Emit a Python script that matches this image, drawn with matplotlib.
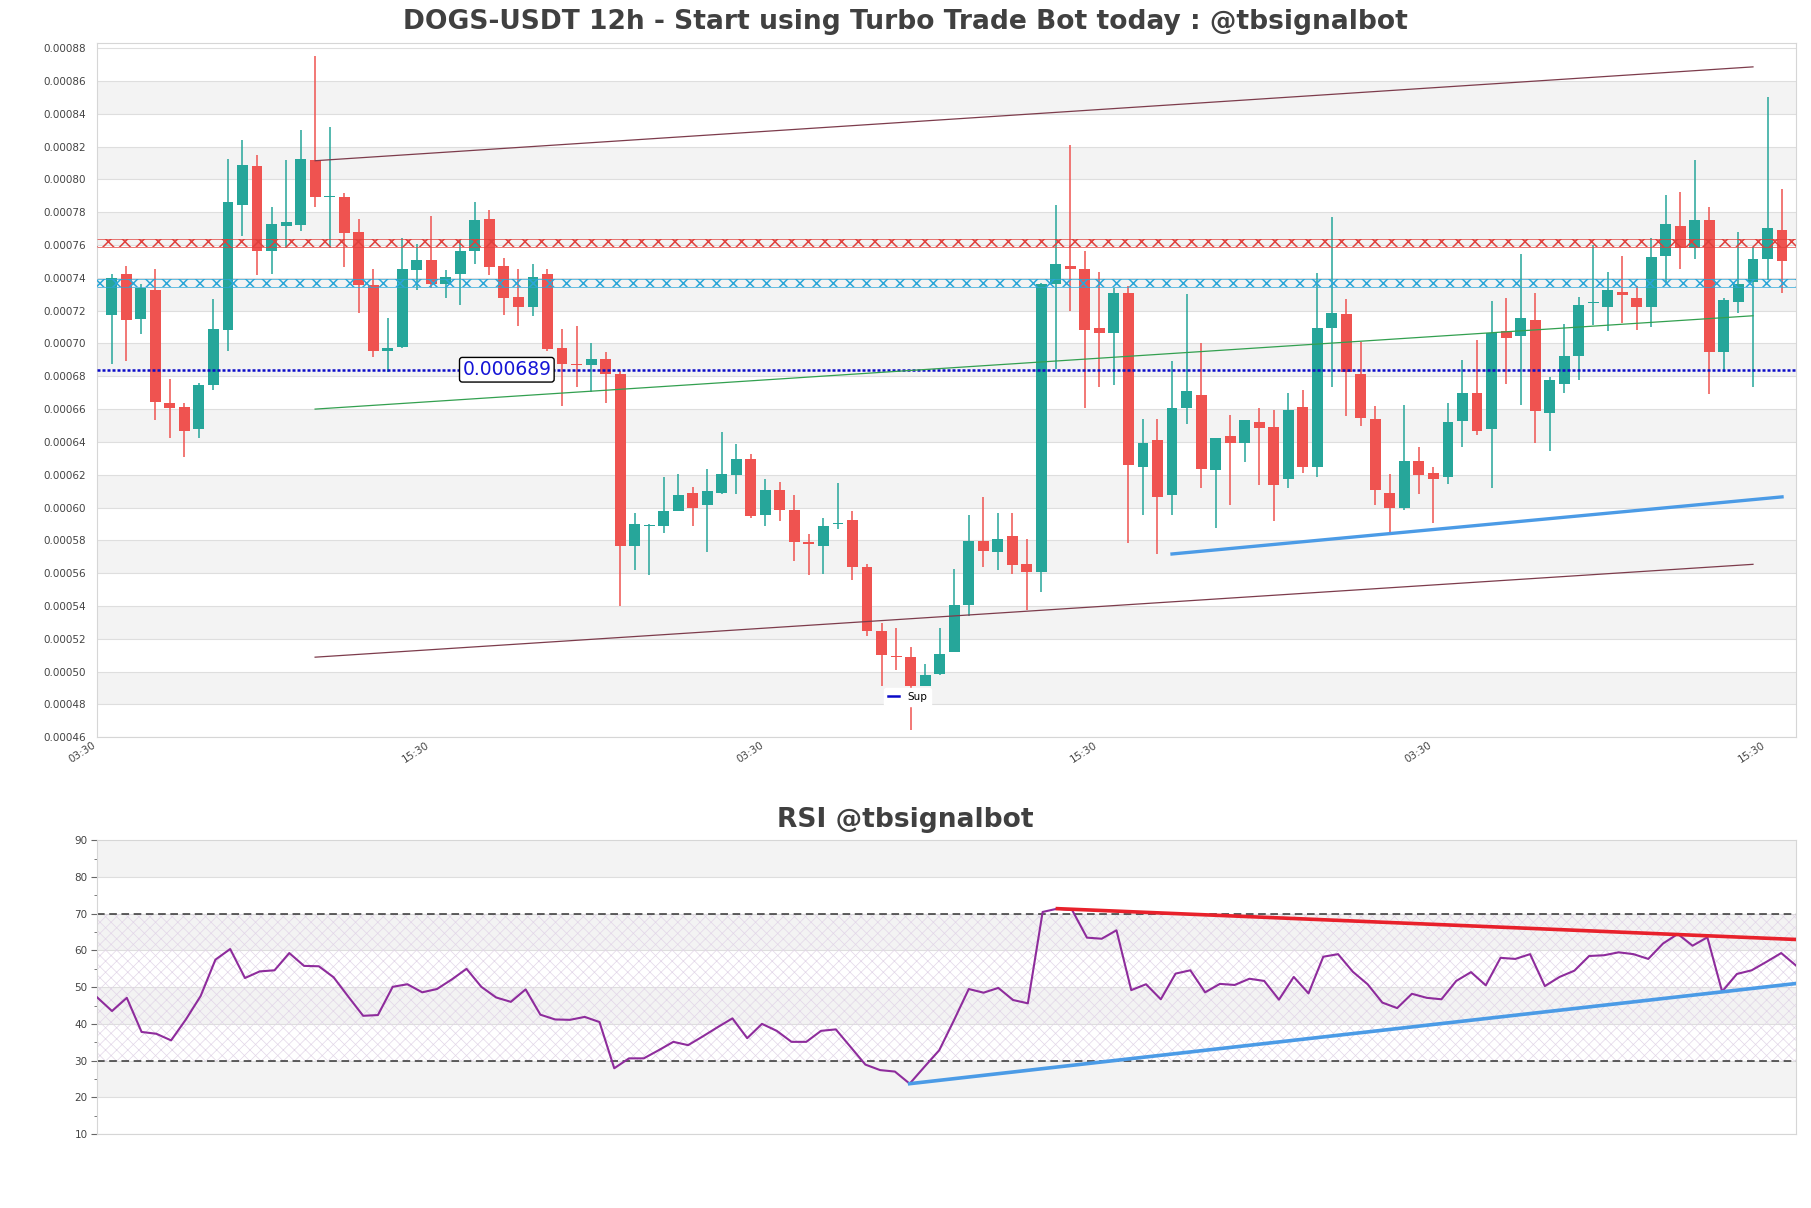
import numpy as np
import matplotlib.pyplot as plt
from matplotlib.lines import Line2D

# 12h candles, prices in units of 1e-5 USDT
opens = [71.74, 74.22, 71.52, 73.29, 66.40, 66.10, 64.77, 67.46, 70.84, 78.44,
         80.81, 75.63, 77.16, 77.21, 81.16, 78.93, 78.90, 76.78, 73.59, 69.53,
         69.78, 74.46, 75.06, 73.62, 74.25, 75.63, 77.57, 74.71, 72.86, 72.20,
         74.25, 69.70, 68.77, 68.69, 69.04, 68.12, 57.63, 58.88, 58.86, 59.81,
         60.90, 60.14, 60.90, 61.99, 62.97, 59.54, 61.06, 59.86, 57.88, 57.63,
         58.99, 59.24, 56.38, 52.46, 50.96, 50.88, 49.11, 49.87, 51.18, 54.04,
         57.96, 57.28, 58.28, 56.57, 56.05, 73.62, 74.74, 74.55, 70.95, 70.62,
         73.10, 62.45, 64.09, 60.76, 66.05, 66.86, 62.29, 64.39, 63.92, 65.20,
         64.88, 61.72, 66.10, 62.45, 70.95, 71.77, 68.12, 65.37, 60.90, 59.95,
         62.83, 62.13, 61.85, 65.26, 67.00, 64.77, 70.76, 70.46, 71.44, 65.75,
         67.52, 69.21, 72.45, 72.20, 73.16, 72.80, 72.20, 75.31, 77.16, 75.80,
         77.54, 69.48, 72.53, 73.76, 75.14, 76.89]
highs = [74.25, 74.71, 73.62, 74.57, 67.85, 66.37, 67.57, 72.69, 81.27, 82.39,
         81.46, 78.30, 81.19, 82.99, 87.51, 83.18, 79.20, 77.57, 74.57, 71.58,
         76.42, 76.07, 77.79, 74.49, 76.29, 78.60, 78.11, 75.20, 74.52, 74.87,
         74.52, 70.89, 71.09, 70.02, 69.48, 68.33, 59.67, 59.00, 61.85, 62.04,
         61.23, 62.37, 64.58, 63.90, 63.27, 61.77, 61.55, 60.76, 58.37, 59.35,
         61.50, 59.81, 56.54, 52.97, 52.65, 51.50, 50.47, 52.65, 56.27, 59.56,
         60.63, 59.67, 59.67, 58.09, 73.70, 78.47, 82.09, 75.66, 74.38, 73.37,
         73.48, 65.37, 65.37, 68.96, 72.99, 70.00, 64.25, 65.67, 65.31, 66.07,
         65.94, 67.00, 67.19, 74.30, 77.68, 72.69, 70.11, 66.21, 62.07, 66.27,
         63.70, 62.48, 66.40, 68.99, 70.19, 72.56, 72.80, 75.47, 73.10, 67.98,
         71.17, 72.86, 75.99, 74.38, 75.33, 73.48, 76.42, 79.07, 79.26, 81.16,
         78.33, 72.80, 76.78, 75.88, 85.00, 79.42]
lows = [68.74, 68.93, 70.57, 65.34, 64.22, 63.08, 64.22, 67.16, 69.53, 76.56,
        74.16, 74.25, 75.80, 76.83, 78.33, 75.80, 74.65, 71.85, 69.15, 68.25,
        69.70, 73.29, 73.37, 72.80, 72.34, 74.84, 74.16, 71.74, 71.06, 71.66,
        69.56, 66.21, 67.33, 67.03, 66.40, 53.98, 56.21, 55.86, 58.42, 59.81,
        58.86, 57.28, 60.85, 60.85, 59.35, 58.86, 59.21, 56.73, 55.86, 55.94,
        58.67, 55.56, 52.18, 49.13, 50.09, 46.46, 49.11, 49.81, 51.18, 53.41,
        56.35, 56.21, 55.97, 53.74, 54.83, 68.47, 71.99, 66.05, 67.33, 67.49,
        57.85, 59.54, 57.17, 59.54, 65.09, 61.17, 58.77, 60.14, 62.78, 61.39,
        59.16, 61.17, 62.13, 61.85, 67.33, 65.58, 64.96, 60.14, 58.45, 59.86,
        60.85, 59.05, 61.44, 63.70, 64.44, 61.17, 67.52, 66.27, 63.92, 63.43,
        66.97, 67.79, 71.11, 70.79, 71.25, 70.84, 71.03, 73.70, 74.52, 75.12,
        66.95, 68.25, 71.85, 67.35, 73.84, 73.10]
closes = [73.97, 71.44, 73.40, 66.43, 66.05, 64.66, 67.49, 70.89, 78.60, 80.86,
          75.63, 77.27, 77.38, 81.27, 78.93, 78.96, 76.72, 73.59, 69.53, 69.70,
          74.57, 75.06, 73.62, 74.05, 75.63, 77.51, 74.65, 72.80, 72.20, 74.08,
          69.67, 68.74, 68.69, 69.07, 68.17, 57.63, 59.02, 58.94, 59.81, 60.79,
          59.95, 60.98, 62.02, 62.94, 59.48, 61.06, 59.86, 57.88, 57.80, 58.86,
          59.07, 56.35, 52.46, 51.04, 50.88, 49.11, 49.81, 51.09, 54.06, 57.96,
          57.33, 58.09, 56.49, 56.05, 73.62, 74.84, 74.55, 70.84, 70.62, 73.10,
          62.59, 63.95, 60.63, 66.07, 67.08, 62.34, 64.25, 63.92, 65.31, 64.85,
          61.39, 65.97, 62.45, 70.92, 71.88, 68.25, 65.45, 61.06, 59.95, 62.83,
          61.99, 61.72, 65.20, 67.00, 64.66, 70.65, 70.32, 71.58, 65.88, 67.79,
          69.21, 72.37, 72.50, 73.29, 72.97, 72.20, 75.28, 77.27, 75.83, 77.54,
          69.48, 72.67, 73.62, 75.17, 77.05, 75.04]

rsi = [47.2, 43.5, 47.1, 37.8, 37.3, 35.5, 41.2, 47.6, 57.5, 60.4,
       52.5, 54.3, 54.6, 59.3, 55.8, 55.7, 52.7, 47.4, 42.2, 42.4,
       50.1, 50.8, 48.6, 49.5, 52.1, 55.0, 50.1, 47.2, 46.0, 49.4,
       42.5, 41.2, 41.1, 41.9, 40.5, 27.9, 30.6, 30.6, 32.8, 35.1,
       34.2, 36.6, 39.1, 41.5, 36.1, 40.0, 38.1, 35.1, 35.1, 38.1,
       38.5, 33.7, 28.9, 27.4, 27.0, 23.7, 28.3, 32.8, 41.0, 49.5,
       48.5, 49.8, 46.5, 45.6, 70.5, 71.4, 71.0, 63.5, 63.2, 65.5,
       49.2, 50.8, 46.7, 53.7, 54.6, 48.6, 50.9, 50.6, 52.3, 51.7,
       46.6, 52.8, 48.3, 58.3, 59.0, 54.2, 50.8, 45.8, 44.3, 48.2,
       47.1, 46.7, 51.7, 54.1, 50.5, 58.0, 57.7, 59.0, 50.3, 52.8,
       54.5, 58.5, 58.7, 59.5, 59.0, 57.7, 61.9, 64.5, 61.3, 63.6,
       48.8, 53.6, 54.6, 56.9, 59.3, 55.9]

tick_pos = [-1, 22, 45, 68, 91, 114]
tick_labels = ['03:30', '15:30', '03:30', '15:30', '03:30', '15:30']

# trend lines: (start index, start price, end index, end price)
chan_top = (14, 81.14, 113, 86.86)
chan_bot = (14, 50.88, 113, 56.54)
green_line = (14, 66.00, 113, 71.69)
sup_line = (73, 57.17, 115, 60.65)
resist_level = 76.11
support_level = 73.70
sup_price = 68.40
sup_text = '0.000689'

rsi_red = (65, 71.4, 115, 63.0)
rsi_blue = (55, 23.7, 115, 51.0)

S = 1e-5
o = np.array(opens) * S
h = np.array(highs) * S
l = np.array(lows) * S
c = np.array(closes) * S
x = np.arange(len(o))

up_col = '#26a69a'
dn_col = '#ef5350'
cols = np.where(c >= o, up_col, dn_col)

fig = plt.figure(figsize=(18.11, 12.08), dpi=100)
ax = fig.add_axes([0.0537, 0.3897, 0.938, 0.5745])
ax2 = fig.add_axes([0.0537, 0.0613, 0.938, 0.243])

# price panel background bands
for k in range(21):
    lo = 0.00046 + k * 0.00002
    if k % 2 == 1:
        ax.axhspan(lo, lo + 0.00002, color='#f3f3f3', zorder=0, lw=0)
    ax.axhline(lo, color='#dedede', lw=0.8, zorder=0.5)
ax.axhline(0.00088, color='#dedede', lw=0.8, zorder=0.5)

# candles
ax.vlines(x, l, h, colors=cols, lw=1.1, zorder=2)
body = np.maximum(np.abs(c - o), 0.0000006)
ax.bar(x, body, bottom=np.minimum(o, c), width=0.75, color=cols, lw=0, zorder=3)

# hatched horizontal levels
plt.rcParams['hatch.linewidth'] = 1.1
xl = (-1, 116)
for lev, col in [(resist_level, '#e0403c'), (support_level, '#2aa6d8')]:
    ax.fill_between(xl, (lev - 0.23) * S, (lev + 0.23) * S, facecolor='none',
                    edgecolor=col, hatch='xx', lw=0, zorder=4)
    ax.hlines([(lev - 0.23) * S, (lev + 0.23) * S], xl[0], xl[1], colors=col, lw=0.5, zorder=4)

ax.axhline(sup_price * S, color='#0a0ac8', lw=1.8, ls=(0, (1.2, 0.8)), zorder=4)
ax.text(27.2, sup_price * S, sup_text, color='#1515d6', fontsize=13.5,
        ha='center', va='center', zorder=6,
        bbox=dict(boxstyle='round,pad=0.15', fc='white', ec='black', lw=1))

for seg, col, lw in [(chan_top, '#7d3c4c', 0.9), (chan_bot, '#7d3c4c', 0.9),
                     (green_line, '#33a050', 0.9), (sup_line, '#4b9be6', 2.4)]:
    ax.plot([seg[0], seg[2]], [seg[1] * S, seg[3] * S], color=col, lw=lw, zorder=5)

ax.set_xlim(-0.98, 115.96)
ax.set_ylim(0.00046, 0.000883)
ax.set_yticks(np.arange(0.00046, 0.000881, 0.00002))
ax.set_yticklabels(['%.5f' % v for v in np.arange(0.00046, 0.000881, 0.00002)])
ax.set_xticks(tick_pos)
ax.set_xticklabels(tick_labels, rotation=33, ha='right', va='top')
ax.tick_params(axis='both', length=0, labelsize=7.5, labelcolor='#444444')
ax.tick_params(axis='y', pad=8)
ax.tick_params(axis='x', pad=2)
for sp in ax.spines.values():
    sp.set_color('#d6d6d6')

leg = ax.legend(handles=[Line2D([], [], color='#0a0ac8', lw=1.8)], labels=['Sup'],
                loc='center', bbox_to_anchor=(0.477, 0.058), fontsize=7.5,
                frameon=True, framealpha=1, edgecolor='white', handlelength=1.0)
leg.set_zorder(10)

# RSI panel
for k in range(8):
    lo = 10 + k * 10
    if k % 2 == 1:
        ax2.axhspan(lo, lo + 10, color='#f3f3f3', zorder=0, lw=0)
    ax2.axhline(lo, color='#dedede', lw=0.8, zorder=0.5)
plt.rcParams['hatch.linewidth'] = 0.5
ax2.fill_between([0, 115], 30, 70, facecolor='none', edgecolor='#e2d6e8',
                 hatch='xxx', lw=0, zorder=1)
ax2.axhline(70, color='#333333', lw=1.1, ls=(0, (5, 3)), zorder=2)
ax2.axhline(30, color='#333333', lw=1.1, ls=(0, (5, 3)), zorder=2)
ax2.plot(np.arange(len(rsi)), rsi, color='#8e2c9c', lw=1.5, zorder=3)
ax2.plot([rsi_red[0], rsi_red[2]], [rsi_red[1], rsi_red[3]], color='#e8212b', lw=2.6, zorder=4)
ax2.plot([rsi_blue[0], rsi_blue[2]], [rsi_blue[1], rsi_blue[3]], color='#4b9be6', lw=2.6, zorder=4)
ax2.set_xlim(0, 115)
ax2.set_ylim(10, 90)
ax2.set_yticks(range(10, 91, 10))
ax2.set_yticks(range(15, 90, 10), minor=True)
ax2.set_xticks([])
ax2.tick_params(axis='y', which='major', length=4, color='#666666', labelsize=7.5,
                labelcolor='#444444', pad=3)
ax2.tick_params(axis='y', which='minor', length=2, color='#666666')
for sp in ax2.spines.values():
    sp.set_color('#d6d6d6')

fig.text(0.5, 0.9818, 'DOGS-USDT 12h - Start using Turbo Trade Bot today : @tbsignalbot',
         ha='center', va='center', fontsize=19.1, fontweight='bold', color='#404040')
fig.text(0.5, 0.3212, 'RSI @tbsignalbot', ha='center', va='center',
         fontsize=19.1, fontweight='bold', color='#404040')

fig.savefig('out.png', dpi=100)
